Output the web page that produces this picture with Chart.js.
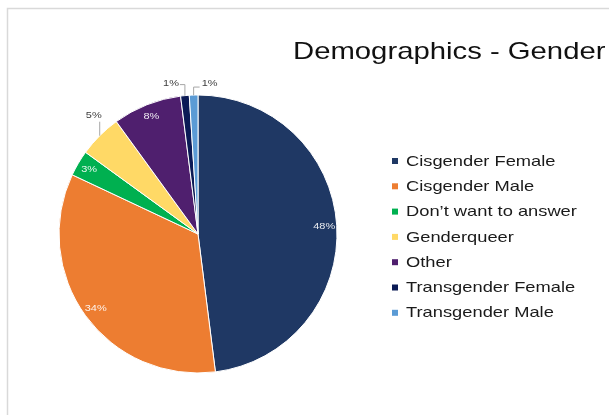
<!DOCTYPE html>
<html>
<head>
<meta charset="utf-8">
<title>Demographics - Gender</title>
<script src="https://cdn.jsdelivr.net/npm/chart.js@4"></script>
<style>
  html, body { margin: 0; padding: 0; background: #fff; }
  #genderChart { display: block; }
</style>
</head>
<body>
<canvas id="genderChart" width="609" height="415"></canvas>
<script>
const chartTitle = 'Demographics - Gender';
const categories = ['Cisgender Female', 'Cisgender Male', 'Don\u2019t want to answer', 'Genderqueer', 'Other', 'Transgender Female', 'Transgender Male'];
const percentages = [48, 34, 3, 5, 8, 1, 1];
const sliceColors = ['#1F3864', '#ED7D31', '#00B050', '#FFD966', '#4F1F6E', '#0B1A55', '#5B9BD5'];

const FONT = '"Liberation Sans", Arial, Helvetica, sans-serif';
const STRETCH = 1.22; // text is drawn a little wide

function wideText(ctx, text, x, y, align) {
    const w = ctx.measureText(text).width * STRETCH;
    let left = x;
    if (align === 'center') left = x - w / 2;
    if (align === 'right') left = x - w;
    ctx.save();
    ctx.translate(left, y);
    ctx.scale(STRETCH, 1);
    ctx.textAlign = 'left';
    ctx.fillText(text, 0, 0);
    ctx.restore();
}

// frame, title and legend
const decorPlugin = {
    id: 'decor',
    beforeDraw(chart) {
        const ctx = chart.ctx;
        ctx.save();
        ctx.strokeStyle = '#d9d9d9';
        ctx.lineWidth = 1.5;
        ctx.beginPath();
        ctx.moveTo(7.5, 415);
        ctx.lineTo(7.5, 8.5);
        ctx.lineTo(609, 8.5);
        ctx.stroke();
        ctx.restore();
    },
    afterDraw(chart) {
        const ctx = chart.ctx;
        ctx.save();
        ctx.fillStyle = '#111';
        ctx.textBaseline = 'alphabetic';
        ctx.font = '24px ' + FONT;
        wideText(ctx, chartTitle, 293, 59, 'left');

        ctx.font = '15px ' + FONT;
        ctx.textBaseline = 'middle';
        categories.forEach((name, i) => {
            const y = 161 + i * 25.3;
            ctx.fillStyle = sliceColors[i];
            ctx.fillRect(392, y - 3, 6, 6);
            ctx.fillStyle = '#1a1a1a';
            wideText(ctx, name, 406, y + 0.5, 'left');
        });
        ctx.restore();
    }
};

// percentage labels, with leader lines for the thin slices
const outsideLabels = {
    3: { lift: 14, run: 0 },
    5: { lift: 11, run: -5 },
    6: { lift: 8, run: 6 }
};

const pctPlugin = {
    id: 'pctLabels',
    afterDatasetsDraw(chart) {
        const ctx = chart.ctx;
        const arcs = chart.getDatasetMeta(0).data;
        ctx.save();
        ctx.font = '9px ' + FONT;
        ctx.textBaseline = 'middle';
        arcs.forEach((arc, i) => {
            const { x, y, startAngle, endAngle, outerRadius } = arc.getProps(['x', 'y', 'startAngle', 'endAngle', 'outerRadius'], true);
            const mid = (startAngle + endAngle) / 2;
            const text = percentages[i] + '%';
            const out = outsideLabels[i];
            if (!out) {
                const r = outerRadius * 0.91;
                ctx.fillStyle = 'rgba(255,255,255,0.9)';
                wideText(ctx, text, x + Math.cos(mid) * r, y + Math.sin(mid) * r, 'center');
                return;
            }
            const ex = x + Math.cos(mid) * outerRadius;
            const ey = y + Math.sin(mid) * outerRadius;
            const top = ey - out.lift;
            ctx.strokeStyle = '#a6a6a6';
            ctx.lineWidth = 1;
            ctx.beginPath();
            ctx.moveTo(ex, ey);
            ctx.lineTo(ex, top);
            ctx.lineTo(ex + out.run, top);
            ctx.stroke();
            ctx.fillStyle = '#404040';
            if (out.run < 0) {
                wideText(ctx, text, ex + out.run - 1, top - 1, 'right');
            } else if (out.run > 0) {
                wideText(ctx, text, ex + out.run + 2, top - 4, 'left');
            } else {
                wideText(ctx, text, ex + 2, top - 6, 'right');
            }
        });
        ctx.restore();
    }
};

new Chart(document.getElementById('genderChart').getContext('2d'), {
    type: 'pie',
    data: {
        labels: categories,
        datasets: [{
            data: percentages,
            backgroundColor: sliceColors,
            borderColor: '#ffffff',
            borderWidth: 1,
            hoverOffset: 0,
            radius: 139
        }]
    },
    options: {
        responsive: false,
        animation: false,
        layout: { padding: { left: 59, right: 272, top: 95, bottom: 42 } },
        plugins: {
            legend: { display: false },
            title: { display: false },
            tooltip: { enabled: false }
        }
    },
    plugins: [decorPlugin, pctPlugin]
});
</script>
</body>
</html>
